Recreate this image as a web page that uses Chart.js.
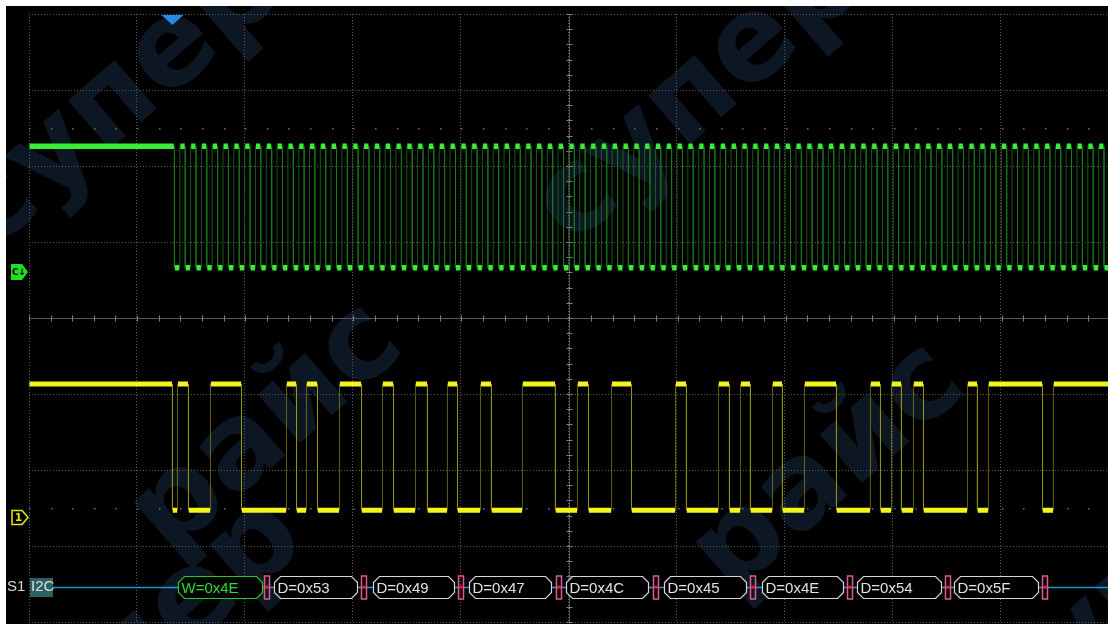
<!DOCTYPE html>
<html><head><meta charset="utf-8">
<script src="https://cdn.jsdelivr.net/npm/chart.js@4.4.1/dist/chart.umd.min.js"></script>
<style>html,body{margin:0;padding:0;background:#fff;overflow:hidden}canvas{display:block}</style>
</head><body>
<canvas id="c" width="1108" height="624"></canvas>
<script>
// ---- data (time in µs, 100 µs/div; vertical in divisions) ----
const timeRange = [0, 998.2];
const levelRange = [-4, 4];
const sclHigh = 2.26, sclLow = 0.66;     // channel C (SCL)
const sdaHigh = -0.87, sdaLow = -2.53;   // channel 1 (SDA)
const sclGround = 0.61, sdaGround = -2.62;
const busLevel = -3.54;
const triggerTime = 132.7;
const busStartTime = 21.7;

const sclFallTimes = [134.5,144.5,154.5,164.5,174.5,184.5,194.5,204.5,214.5,224.5,234.5,244.5,254.5,264.5,274.5,284.5,294.5,304.5,314.5,324.5,334.5,344.5,354.5,364.5,374.5,384.5,394.5,404.5,414.5,424.5,434.5,444.5,454.5,464.5,474.5,484.5,494.5,504.5,514.5,524.5,534.5,544.5,554.5,564.5,574.5,584.5,594.5,604.5,614.5,624.5,634.5,644.5,654.5,664.5,674.5,684.5,694.5,704.5,714.5,724.5,734.5,744.5,754.5,764.5,774.5,784.5,794.5,804.5,814.5,824.5,834.5,844.5,854.5,864.5,874.5,884.5,894.5,904.5,914.5,924.5,934.5,944.5,954.5,964.5,974.5,984.5,994.5];
const sclRiseTimes = [139.5,149.5,159.5,169.5,179.5,189.5,199.5,209.5,219.5,229.5,239.5,249.5,259.5,269.5,279.5,289.5,299.5,309.5,319.5,329.5,339.5,349.5,359.5,369.5,379.5,389.5,399.5,409.5,419.5,429.5,439.5,449.5,459.5,469.5,479.5,489.5,499.5,509.5,519.5,529.5,539.5,549.5,559.5,569.5,579.5,589.5,599.5,609.5,619.5,629.5,639.5,649.5,659.5,669.5,679.5,689.5,699.5,709.5,719.5,729.5,739.5,749.5,759.5,769.5,779.5,789.5,799.5,809.5,819.5,829.5,839.5,849.5,859.5,869.5,879.5,889.5,899.5,909.5,919.5,929.5,939.5,949.5,959.5,969.5,979.5,989.5];
// SDA starts high; each entry is a toggle
const sdaEdgeTimes = [132.7,137.4,147.5,167.9,196.6,238.2,247.5,256.7,266.9,287.2,307.6,327.0,337.2,357.5,368.6,387.1,396.4,417.7,427.8,456.5,487.0,507.4,517.6,538.9,557.4,598.1,608.2,637.8,648.0,658.2,667.4,687.8,697.0,717.4,747.0,778.4,787.7,797.9,807.1,818.2,827.5,868.2,877.4,887.6,937.6,947.7];

const decodeLabels = ['W=0x4E','D=0x53','D=0x49','D=0x47','D=0x4C','D=0x45','D=0x4E','D=0x54','D=0x5F'];
const decodeStart = [137.4,227.1,317.8,406.6,497.2,587.9,678.5,766.4,856.1];
const decodeEnd   = [215.1,303.9,393.6,483.3,572.2,663.7,753.5,844.1,933.0];
const ackTimes    = [220.2,309.9,399.6,490.3,580.0,670.2,759.5,850.1,939.9];

const watermarks = [
  {text:'супер', x:120, y:100},
  {text:'райс', x:268, y:430},
  {text:'супер', x:700, y:95},
  {text:'райс', x:830, y:470},
  {text:'супер', x:140, y:650},
  {text:'суп', x:1085, y:640}
];

// ---- build series ----
function intervals(edges, startHigh, hi, lo) {
  const out = []; let lvl = startHigh; let t0 = timeRange[0];
  for (const t of edges) { out.push({a:t0, b:t, y: lvl ? hi : lo}); lvl = !lvl; t0 = t; }
  out.push({a:t0, b:timeRange[1] + 5, y: lvl ? hi : lo});
  return out;
}
function edgePts(iv) { const p = []; iv.forEach(s => { p.push({x:s.a, y:s.y}); p.push({x:s.b, y:s.y}); }); return p; }
function platPts(iv, m) { const p = []; iv.forEach(s => { p.push({x:s.a+m, y:s.y}); p.push({x:s.b-m, y:s.y}); p.push({x:s.b, y:null}); }); return p; }

const sclEdges = sclFallTimes.concat(sclRiseTimes).sort((a,b)=>a-b);
const sclIv = intervals(sclEdges, true, sclHigh, sclLow);
const sdaIv = intervals(sdaEdgeTimes, true, sdaHigh, sdaLow);

const ds = (data, color, w) => ({data, borderColor:color, borderWidth:w, pointRadius:0, spanGaps:false, tension:0, borderCapStyle:'butt', fill:false});

// ---- plugins ----
const bgPlugin = {
  id:'bg',
  beforeDraw(chart) {
    const ctx = chart.ctx;
    ctx.save();
    ctx.fillStyle = '#000';
    ctx.fillRect(6, 6, chart.width - 6, chart.height - 6);
    ctx.beginPath(); ctx.rect(6, 6, chart.width - 6, chart.height - 6); ctx.clip();
    ctx.fillStyle = 'rgb(13,23,35)';
    ctx.font = 'bold 118px "DejaVu Sans"';
    ctx.textAlign = 'center'; ctx.textBaseline = 'middle';
    watermarks.forEach(w => {
      ctx.save(); ctx.translate(w.x, w.y); ctx.rotate(-41 * Math.PI / 180);
      ctx.fillText(w.text, 0, 0); ctx.restore();
    });
    ctx.restore();
  },
  beforeDatasetsDraw(chart) {
    const ctx = chart.ctx, xs = chart.scales.x, ys = chart.scales.y, ca = chart.chartArea;
    ctx.save();
    const cx = Math.round(xs.getPixelForValue(500)) + 0.5;
    const cy = Math.round(ys.getPixelForValue(0)) + 0.5;
    ctx.strokeStyle = '#555'; ctx.lineWidth = 1;
    ctx.beginPath(); ctx.moveTo(ca.left, cy); ctx.lineTo(ca.right, cy);
    ctx.moveTo(cx, ca.top); ctx.lineTo(cx, ca.bottom); ctx.stroke();
    ctx.strokeStyle = '#808080';
    ctx.beginPath();
    for (let t = 0; t <= timeRange[1]; t += 20) { const x = Math.round(xs.getPixelForValue(t)) + 0.5; ctx.moveTo(x, cy - 3); ctx.lineTo(x, cy + 3); }
    for (let v = levelRange[0]; v <= levelRange[1] + 1e-6; v += 0.2) { const y = Math.round(ys.getPixelForValue(v)) + 0.5; ctx.moveTo(cx - 3, y); ctx.lineTo(cx + 3, y); }
    ctx.stroke();
    ctx.fillStyle = '#6a6a6a';
    [2.5, -2.5].forEach(v => {
      const y = Math.round(ys.getPixelForValue(v));
      for (let t = 0; t <= timeRange[1]; t += 20) { const x = Math.round(xs.getPixelForValue(t)); ctx.fillRect(x, y, 1.5, 1.5); }
    });
    ctx.restore();
  },
  afterDatasetsDraw(chart) {
    const ctx = chart.ctx, xs = chart.scales.x, ys = chart.scales.y, ca = chart.chartArea;
    ctx.save();
    const yc = Math.round(ys.getPixelForValue(busLevel)) + 0.5;
    ctx.strokeStyle = '#1b9bd6'; ctx.lineWidth = 1.5;
    ctx.beginPath(); ctx.moveTo(xs.getPixelForValue(busStartTime), yc); ctx.lineTo(ca.right, yc); ctx.stroke();
    const h = 11, c = 6;
    ctx.font = '15px "Liberation Sans", Arial, sans-serif';
    ctx.textBaseline = 'middle'; ctx.textAlign = 'left';
    decodeLabels.forEach((lab, i) => {
      const x0 = Math.round(xs.getPixelForValue(decodeStart[i])) + 0.5;
      const x1 = Math.round(xs.getPixelForValue(decodeEnd[i])) + 0.5;
      const col = i === 0 ? '#22cc22' : '#d6d6d6';
      ctx.beginPath();
      ctx.moveTo(x0, yc - h + c); ctx.lineTo(x0 + c, yc - h); ctx.lineTo(x1 - c, yc - h); ctx.lineTo(x1, yc - h + c);
      ctx.lineTo(x1, yc + h - c); ctx.lineTo(x1 - c, yc + h); ctx.lineTo(x0 + c, yc + h); ctx.lineTo(x0, yc + h - c); ctx.closePath();
      ctx.fillStyle = '#000'; ctx.fill();
      ctx.strokeStyle = col; ctx.lineWidth = 1.2; ctx.stroke();
      ctx.fillStyle = i === 0 ? '#2fdc2f' : '#e2e2e2';
      ctx.fillText(lab, x0 + 3, yc + 1);
    });
    ackTimes.forEach(t => {
      const x = Math.round(xs.getPixelForValue(t));
      ctx.strokeStyle = '#e05a95'; ctx.lineWidth = 1.5;
      ctx.strokeRect(x - 2.5, yc - 11.5, 5, 23);
      ctx.fillStyle = '#ff1010'; ctx.fillRect(x - 1.5, yc - 2, 3, 3);
    });
    ctx.restore();
  },
  afterDraw(chart) {
    const ctx = chart.ctx, xs = chart.scales.x, ys = chart.scales.y, ca = chart.chartArea;
    ctx.save();
    const tx = xs.getPixelForValue(triggerTime);
    ctx.fillStyle = '#2a88e6';
    ctx.beginPath(); ctx.moveTo(tx - 11, ca.top + 1); ctx.lineTo(tx + 11, ca.top + 1); ctx.lineTo(tx, ca.top + 11); ctx.closePath(); ctx.fill();
    let y = Math.round(ys.getPixelForValue(sclGround));
    ctx.fillStyle = '#22dd22';
    ctx.beginPath(); ctx.moveTo(11, y - 8); ctx.lineTo(22, y - 8); ctx.lineTo(28, y); ctx.lineTo(22, y + 8); ctx.lineTo(11, y + 8); ctx.closePath(); ctx.fill();
    ctx.fillStyle = '#000'; ctx.font = 'bold 9px "DejaVu Sans"'; ctx.textBaseline = 'middle'; ctx.textAlign = 'left';
    ctx.fillText('C↓', 12, y + 1);
    y = Math.round(ys.getPixelForValue(sdaGround)) + 0.5;
    ctx.strokeStyle = '#e8e810'; ctx.lineWidth = 1.5; ctx.fillStyle = '#000';
    ctx.beginPath(); ctx.moveTo(12, y - 7); ctx.lineTo(22, y - 7); ctx.lineTo(28, y); ctx.lineTo(22, y + 7); ctx.lineTo(12, y + 7); ctx.closePath(); ctx.fill(); ctx.stroke();
    ctx.fillStyle = '#e8e810'; ctx.font = 'bold 10px "DejaVu Sans"';
    ctx.fillText('1', 15, y + 1);
    const yb = Math.round(ys.getPixelForValue(busLevel));
    ctx.font = '15px "Liberation Sans", Arial, sans-serif';
    ctx.fillStyle = '#d8d8d8'; ctx.fillText('S1', 7, yb);
    ctx.fillStyle = '#2c5f5f'; ctx.fillRect(30, yb - 9, 23, 19);
    ctx.fillStyle = '#d4e4e4'; ctx.fillText('I2C', 31, yb);
    ctx.restore();
  }
};

new Chart(document.getElementById('c'), {
  type: 'line',
  data: { datasets: [
    ds(platPts(sclIv, 0.5), '#35f035', 5.5),
    ds(platPts(sdaIv, 0.4), '#f4f41e', 5),
    ds(edgePts(sclIv), 'rgba(30,125,30,0.7)', 1),
    ds(edgePts(sdaIv), 'rgba(160,160,20,0.6)', 1)
  ]},
  options: {
    responsive: false, animation: false, devicePixelRatio: 1,
    layout: { padding: { left: 29, top: 14, right: 0, bottom: 2 } },
    plugins: { legend: { display: false }, tooltip: { enabled: false } },
    scales: {
      x: { type: 'linear', min: timeRange[0], max: timeRange[1],
           ticks: { display: false, stepSize: 100, includeBounds: false },
           grid: { color: '#5e5e5e', lineWidth: 1, drawTicks: false },
           border: { display: false, dash: [1, 2] },
           afterFit: s => { s.height = 0; } },
      y: { type: 'linear', min: levelRange[0], max: levelRange[1],
           ticks: { display: false, stepSize: 1 },
           grid: { color: '#5e5e5e', lineWidth: 1, drawTicks: false },
           border: { display: false, dash: [1, 2] },
           afterFit: s => { s.width = 0; } }
    }
  },
  plugins: [bgPlugin]
});
</script>
</body></html>
